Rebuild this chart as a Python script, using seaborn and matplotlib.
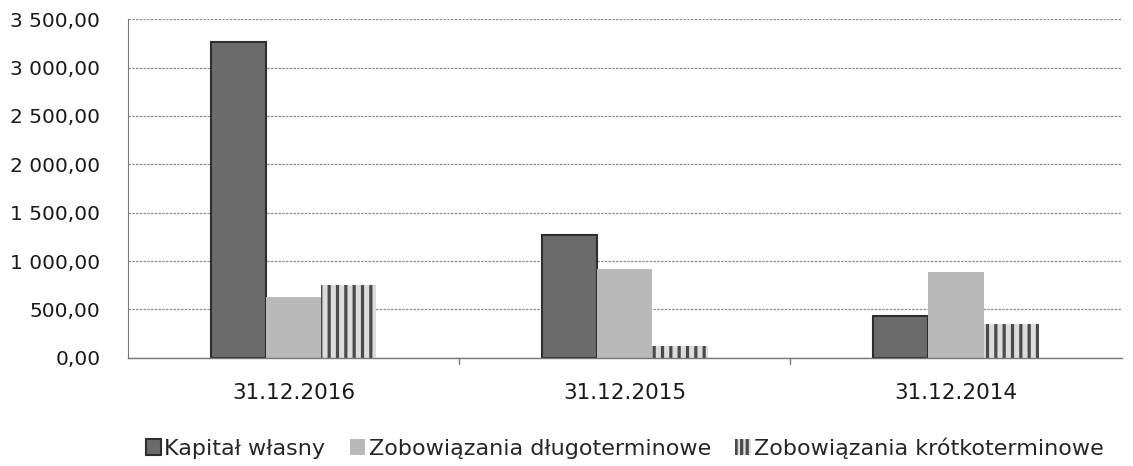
import pandas as pd
import matplotlib.pyplot as plt
import seaborn as sns
from matplotlib.ticker import FuncFormatter

# dane
daty = ['31.12.2016', '31.12.2015', '31.12.2014']
serie = ['Kapitał własny', 'Zobowiązania długoterminowe', 'Zobowiązania krótkoterminowe']
kapital = [3262, 1270, 433]
dlugo = [630, 918, 888]
krotko = [753, 118, 351]

df = pd.DataFrame({
    'data': daty * 3,
    'seria': [serie[0]] * 3 + [serie[1]] * 3 + [serie[2]] * 3,
    'wartosc': kapital + dlugo + krotko,
})

sns.set_style('white')
plt.rcParams['font.family'] = ['DejaVu Sans']
plt.rcParams['hatch.linewidth'] = 2.3
plt.rcParams['hatch.color'] = '#4a4a4a'

fig = plt.figure(figsize=(11.33, 4.66), dpi=100)
ax = fig.add_axes([0.113, 0.232, 0.877, 0.727])

kolory = ['#6b6b6b', '#b9b9b9', '#8a8a8a']
sns.barplot(data=df, x='data', y='wartosc', hue='seria', order=daty, hue_order=serie,
            palette=kolory, width=0.5, gap=0, ax=ax, saturation=1, errorbar=None)


def styl(p, i):
    if i == 0:
        p.set_edgecolor('#2e2e2e')
        p.set_linewidth(1.5)
    elif i == 1:
        p.set_linewidth(0)
    else:
        p.set_facecolor('#dcdcdc')
        p.set_edgecolor('#4a4a4a')
        p.set_hatch('||')
        p.set_linewidth(0)


for i, cont in enumerate(ax.containers):
    for p in cont:
        styl(p, i)

ax.set_ylim(0, 3500)
ax.set_yticks(range(0, 3501, 500))
ax.yaxis.set_major_formatter(FuncFormatter(lambda v, _: f'{v:,.2f}'.replace(',', ' ').replace('.', ',')))
ax.set_xlim(-0.5, 2.5)
ax.yaxis.grid(True, color='#8c8c8c', linestyle=(0, (2, 1)), linewidth=0.9)
ax.set_axisbelow(True)

for s in ['top', 'right']:
    ax.spines[s].set_visible(False)
ax.spines['left'].set_color('#777777')
ax.spines['left'].set_linestyle((0, (1, 1)))
ax.spines['bottom'].set_color('#777777')
ax.spines['bottom'].set_linewidth(1)

ax.tick_params(axis='y', labelsize=14.5, length=0, pad=20, colors='#1a1a1a')
ax.tick_params(axis='x', labelsize=15.5, length=0, pad=18, colors='#1a1a1a')
ax.set_xlabel('')
ax.set_ylabel('')

# male znaczniki miedzy kategoriami
for xx in [0.5, 1.5]:
    ax.plot([xx, xx], [0, -60], color='#777777', lw=1, clip_on=False)

leg = ax.legend(loc='upper center', bbox_to_anchor=(0.5, -0.175), ncol=3, frameon=False,
                fontsize=16, handlelength=0.7, handleheight=0.7, handletextpad=0.15,
                columnspacing=1.1)
for i, h in enumerate(leg.legend_handles):
    styl(h, i)
    if i == 2:
        h.set_hatch('|||')

fig.savefig('out.png', dpi=100)
